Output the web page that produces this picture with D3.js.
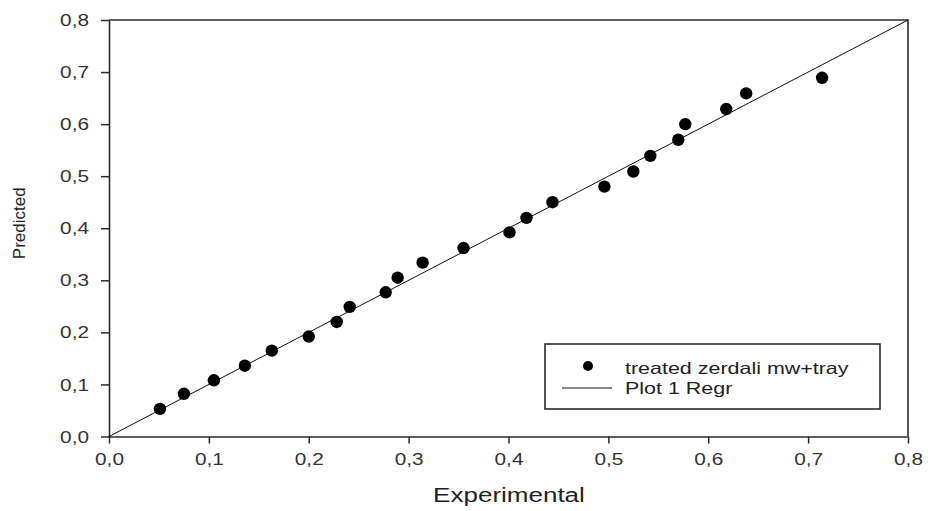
<!DOCTYPE html>
<html>
<head>
<meta charset="utf-8">
<script src="https://cdn.jsdelivr.net/npm/d3@7"></script>
<style>
  html, body { margin: 0; padding: 0; background: #fff; }
  svg { display: block; font-family: "Liberation Sans", Arial, sans-serif; }
</style>
</head>
<body>
<svg id="chart" width="928" height="511"></svg>
<script>
// Experimental vs predicted values
const experimental = [0.051, 0.075, 0.105, 0.136, 0.163, 0.200, 0.228, 0.241, 0.277, 0.289,
                      0.314, 0.355, 0.401, 0.418, 0.444, 0.496, 0.525, 0.542, 0.570, 0.577,
                      0.618, 0.638, 0.714];
const predicted    = [0.053, 0.082, 0.108, 0.136, 0.165, 0.192, 0.220, 0.249, 0.277, 0.305,
                      0.334, 0.362, 0.392, 0.420, 0.450, 0.480, 0.509, 0.539, 0.570, 0.600,
                      0.629, 0.659, 0.689];

// Regression line end points
const regrX = [0.0, 0.8];
const regrY = [0.0, 0.8];

// Axis ticks
const xTicks = [0.0, 0.1, 0.2, 0.3, 0.4, 0.5, 0.6, 0.7, 0.8];
const yTicks = [0.0, 0.1, 0.2, 0.3, 0.4, 0.5, 0.6, 0.7, 0.8];

const seriesLabel = "treated zerdali mw+tray";
const regrLabel = "Plot 1 Regr";

(function draw() {
  const svg = d3.select("#chart");
  const pl = 109, pr = 908, pt = 20, pb = 436.5;
  const ink = "#2a2a2a";
  const wide = 1.3; // horizontal text is set wide

  const x = d3.scaleLinear().domain([0, 0.8]).range([pl, pr]);
  const y = d3.scaleLinear().domain([0, 0.8]).range([pb, pt]);
  const fmt = d => d3.format(".1f")(d).replace(".", ",");

  // frame (top and right edges)
  svg.append("path")
    .attr("d", `M${pl},${pt}H${pr}V${pb}`)
    .attr("fill", "none").attr("stroke", ink).attr("stroke-width", 1.6);

  // axes
  const gx = svg.append("g").attr("transform", `translate(0,${pb})`)
    .call(d3.axisBottom(x).tickValues(xTicks).tickFormat(fmt).tickSize(7).tickSizeOuter(0).tickPadding(10));
  const gy = svg.append("g").attr("transform", `translate(${pl},0)`)
    .call(d3.axisLeft(y).tickValues(yTicks).tickFormat(fmt).tickSize(8).tickSizeOuter(0).tickPadding(12));

  [gx, gy].forEach(g => {
    g.select(".domain").attr("stroke", ink).attr("stroke-width", 1.6);
    g.selectAll(".tick line").attr("stroke", ink).attr("stroke-width", 1.5);
    g.selectAll(".tick text").attr("fill", "#333").attr("font-size", 16)
      .attr("font-family", "Liberation Sans, Arial, sans-serif");
  });
  gx.selectAll(".tick text").attr("dy", "0.71em");
  gy.selectAll(".tick text").attr("dy", "0.35em");

  // regression line
  svg.append("line")
    .attr("x1", x(regrX[0])).attr("y1", y(regrY[0]))
    .attr("x2", x(regrX[1])).attr("y2", y(regrY[1]))
    .attr("stroke", "#111").attr("stroke-width", 1);

  // data points
  svg.append("g").selectAll("circle")
    .data(experimental.map((e, i) => [e, predicted[i]]))
    .join("circle")
    .attr("cx", d => x(d[0])).attr("cy", d => y(d[1]))
    .attr("r", 6.2).attr("fill", "#000");

  // axis titles
  svg.append("text").attr("class", "h")
    .attr("x", (pl + pr) / 2 + 0.5).attr("y", 501.5)
    .attr("text-anchor", "middle").attr("font-size", 20).attr("fill", "#222")
    .text("Experimental");
  svg.append("text")
    .attr("transform", `translate(25,${(pt + pb) / 2 - 5}) rotate(-90)`)
    .attr("text-anchor", "middle").attr("font-size", 17).attr("fill", "#222")
    .text("Predicted");

  // legend
  const lg = svg.append("g");
  lg.append("rect").attr("x", 545).attr("y", 344).attr("width", 335).attr("height", 65)
    .attr("fill", "#fff").attr("stroke", ink).attr("stroke-width", 1.6);
  lg.append("circle").attr("cx", 588).attr("cy", 366).attr("r", 5).attr("fill", "#000");
  lg.append("line").attr("x1", 562).attr("x2", 612).attr("y1", 388).attr("y2", 388)
    .attr("stroke", "#111").attr("stroke-width", 1);
  lg.append("text").attr("class", "h").attr("x", 625).attr("y", 373.5)
    .attr("font-size", 16.5).attr("fill", "#222").text(seriesLabel);
  lg.append("text").attr("class", "h").attr("x", 625).attr("y", 393.5)
    .attr("font-size", 16.5).attr("fill", "#222").text(regrLabel);

  // widen horizontal text
  svg.selectAll(".tick text, text.h").each(function () {
    const w = this.getComputedTextLength();
    d3.select(this).attr("textLength", w * wide).attr("lengthAdjust", "spacingAndGlyphs");
  });
})();
</script>
</body>
</html>
